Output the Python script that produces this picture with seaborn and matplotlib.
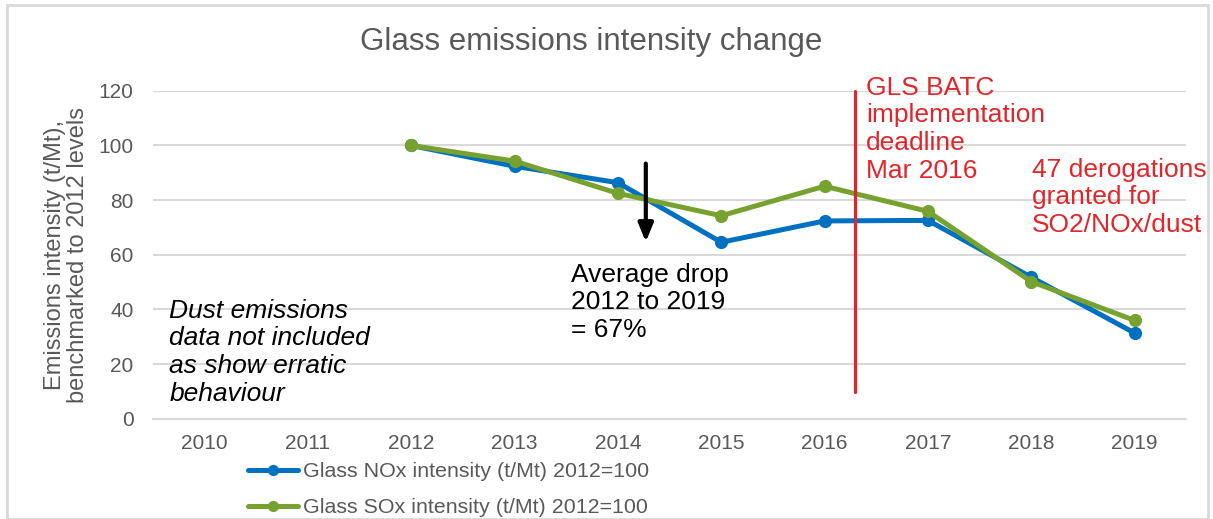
import seaborn as sns
import matplotlib.pyplot as plt
import pandas as pd
from matplotlib.patches import Rectangle

YEARS = [2010, 2011, 2012, 2013, 2014, 2015, 2016, 2017, 2018, 2019]
DATA_YEARS = [2012, 2013, 2014, 2015, 2016, 2017, 2018, 2019]
NOX = [100, 92.4, 86.4, 64.6, 72.4, 72.6, 51.8, 31.4]
SOX = [100, 94.3, 82.5, 74.3, 85.1, 75.9, 50.2, 36.0]
NOX_LABEL = "Glass NOx intensity (t/Mt) 2012=100"
SOX_LABEL = "Glass SOx intensity (t/Mt) 2012=100"
TITLE = "Glass emissions intensity change"

BLUE = "#0070C0"
GREEN = "#77A22F"
RED = "#E0262B"
GREY = "#595959"

df = pd.DataFrame({
    "year": DATA_YEARS * 2,
    "value": NOX + SOX,
    "series": [NOX_LABEL] * len(NOX) + [SOX_LABEL] * len(SOX),
})

sns.set_style("white")
plt.rcParams["font.family"] = ["Liberation Sans", "DejaVu Sans"]

fig = plt.figure(figsize=(12.13, 5.19), dpi=100)
ax = fig.add_axes([0.126, 0.193, 0.852, 0.632])

sns.lineplot(data=df, x="year", y="value", hue="series",
             palette=[BLUE, GREEN], marker="o", markersize=9.5,
             markeredgewidth=0, linewidth=3.6, ax=ax)

ax.set_xlim(2009.5, 2019.5)
ax.set_ylim(0, 120)
ax.set_xticks(YEARS)
ax.set_xticklabels([str(y) for y in YEARS])
ax.set_yticks(range(0, 121, 20))
ax.tick_params(axis="both", labelsize=15, colors=GREY, length=0)
ax.tick_params(axis="y", pad=14)
ax.tick_params(axis="x", pad=11)
ax.yaxis.grid(True, color="#D9D9D9", linewidth=1.5)
for s in ["top", "right", "left"]:
    ax.spines[s].set_visible(False)
ax.spines["bottom"].set_color("#D9D9D9")
ax.spines["bottom"].set_linewidth(1.5)
ax.set_xlabel("")
ax.set_ylabel("Emissions intensity (t/Mt),\nbenchmarked to 2012 levels",
              fontsize=17, color=GREY, labelpad=7, linespacing=1.05)

fig.text(0.487, 0.919, TITLE, ha="center", va="center", fontsize=22.5, color=GREY)

# deadline marker and annotations
ax.plot([2016.29, 2016.29], [9.9, 120], color=RED, linewidth=2.3, clip_on=False)
ax.annotate("", xy=(2014.27, 63.7), xytext=(2014.27, 94.4),
            arrowprops=dict(arrowstyle="-|>,head_width=0.45,head_length=1.1",
                            color="black", linewidth=3))
ax.text(2016.40, 125.5, "GLS BATC\nimplementation\ndeadline\nMar 2016",
        color=RED, fontsize=19, va="top", ha="left", linespacing=1.19)
ax.text(2018.01, 95.5, "47 derogations\ngranted for\nSO2/NOx/dust",
        color=RED, fontsize=19, va="top", ha="left", linespacing=1.19)
ax.text(2013.55, 57.1, "Average drop\n2012 to 2019\n= 67%",
        color="black", fontsize=19, va="top", ha="left", linespacing=1.19)
ax.text(2009.66, 43.9, "Dust emissions\ndata not included\nas show erratic\nbehaviour",
        color="black", fontsize=19, style="italic", va="top", ha="left",
        linespacing=1.19)

handles, labels = ax.get_legend_handles_labels()
ax.legend(handles, labels, loc="upper left", bbox_to_anchor=(0.197, 0.126),
          bbox_transform=fig.transFigure, frameon=False, fontsize=15.4,
          labelcolor=GREY, handlelength=2.35, handletextpad=0.23,
          labelspacing=0.8, borderaxespad=0, markerscale=0.85)

fig.add_artist(Rectangle((0.006, 0.0), 0.99, 0.99, transform=fig.transFigure,
                         fill=False, edgecolor="#D9D9D9", linewidth=2))

fig.savefig("out.png", dpi=100)
